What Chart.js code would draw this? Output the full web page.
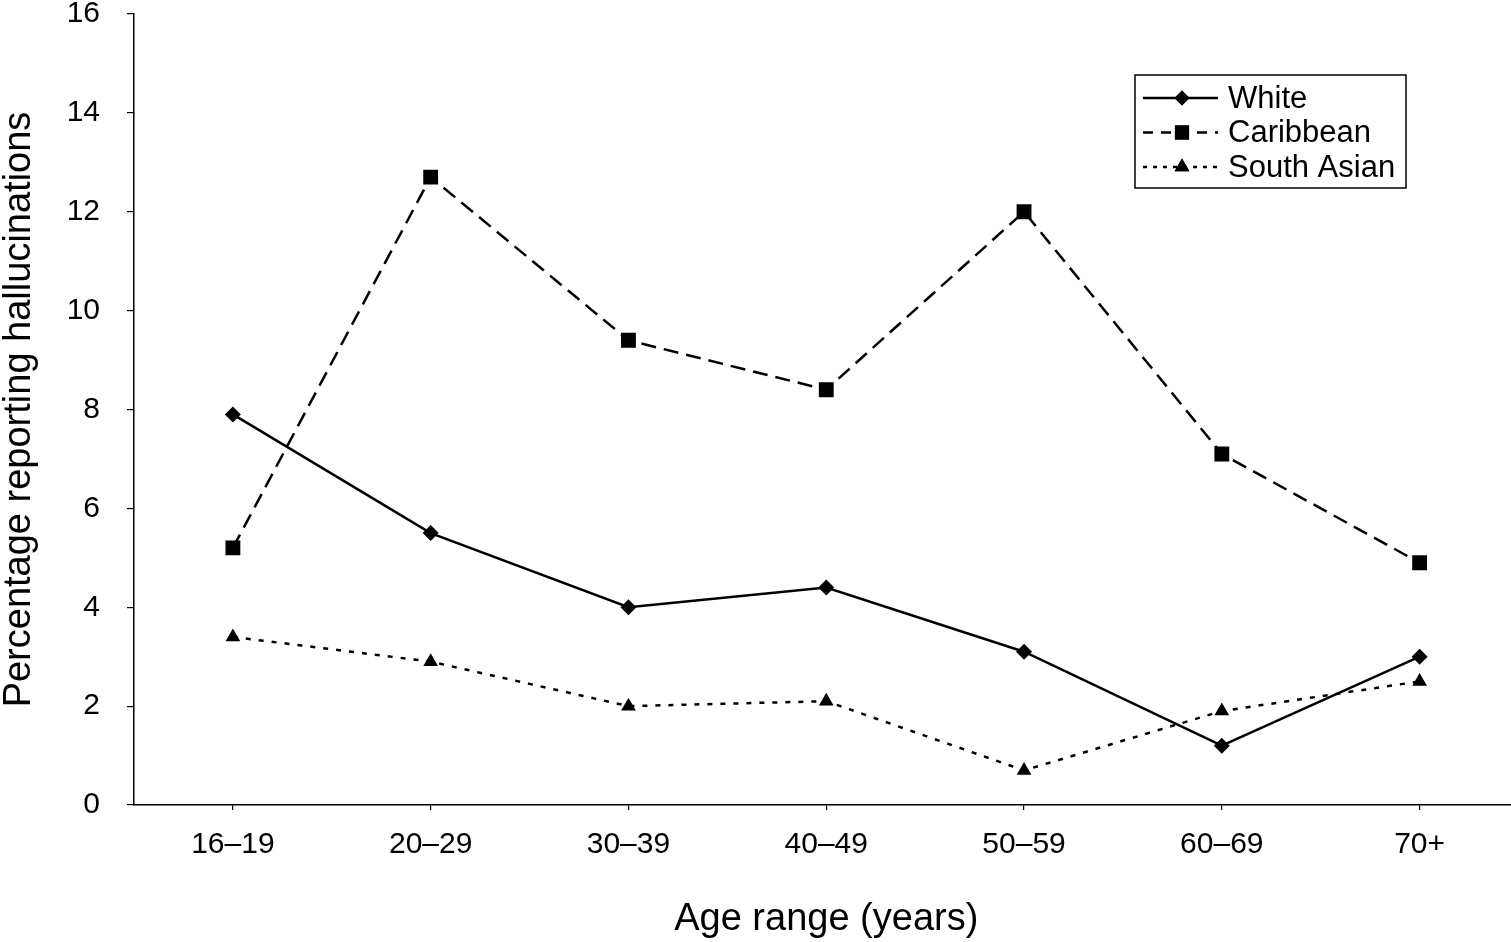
<!DOCTYPE html>
<html>
<head>
<meta charset="utf-8">
<script src="https://cdn.jsdelivr.net/npm/chart.js@4/dist/chart.umd.min.js"></script>
<style>
    html, body { margin: 0; padding: 0; background: #fff; overflow: hidden; width: 1511px; height: 942px; }
    /* the plot runs a little past the right edge of the picture, so clip it */
    #wrap { position: relative; width: 1511px; height: 942px; overflow: hidden; }
    #chart { position: absolute; left: 0; top: 0; display: block; max-width: none !important; }
</style>
</head>
<body>
<div id="wrap"><canvas id="chart" width="1529" height="942"></canvas></div>
<script>
// Data
const ageRanges = ['16\u201319', '20\u201329', '30\u201339', '40\u201349', '50\u201359', '60\u201369', '70+'];
const whiteValues = [7.9, 5.5, 4.0, 4.4, 3.1, 1.2, 3.0];
const caribbeanValues = [5.2, 12.7, 9.4, 8.4, 12.0, 7.1, 4.9];
const southAsianValues = [3.4, 2.9, 2.0, 2.1, 0.7, 1.9, 2.5];
const seriesLabels = ['White', 'Caribbean', 'South Asian'];

const FONT = '"Liberation Sans", Arial, sans-serif';

// Boxed legend drawn inside the plot, top right
const boxLegend = {
    id: 'boxLegend',
    afterDraw(chart) {
        const ctx = chart.ctx;
        const x0 = 1135, y0 = 75, w = 271, h = 113;
        const rowH = 34.5;
        ctx.save();
        ctx.fillStyle = '#fff';
        ctx.fillRect(x0, y0, w, h);
        ctx.strokeStyle = '#000';
        ctx.lineWidth = 1.5;
        ctx.strokeRect(x0, y0, w, h);
        chart.data.datasets.forEach((ds, i) => {
            const cy = y0 + 23 + i * rowH;
            ctx.strokeStyle = '#000';
            ctx.lineWidth = 2.5;
            ctx.setLineDash(ds.legendDash || []);
            ctx.beginPath();
            ctx.moveTo(x0 + 8, cy);
            ctx.lineTo(x0 + 83, cy);
            ctx.stroke();
            ctx.setLineDash([]);
            ctx.fillStyle = '#000';
            Chart.helpers.drawPoint(ctx, {
                pointStyle: ds.pointStyle,
                radius: ds.legendRadius,
                borderWidth: 0
            }, x0 + 47, cy);
            ctx.fill();
            ctx.font = '31px ' + FONT;
            ctx.textBaseline = 'middle';
            ctx.textAlign = 'left';
            ctx.fillText(ds.label, x0 + 93, cy + 1);
        });
        ctx.restore();
    }
};

new Chart(document.getElementById('chart'), {
    type: 'line',
    data: {
        labels: ageRanges,
        datasets: [{
            label: seriesLabels[0],
            data: whiteValues,
            borderColor: '#000',
            backgroundColor: '#000',
            borderWidth: 2.5,
            pointStyle: 'rectRot',
            pointRadius: 8,
            pointBorderWidth: 0,
            legendRadius: 7.5,
            legendDash: []
        }, {
            label: seriesLabels[1],
            data: caribbeanValues,
            borderColor: '#000',
            backgroundColor: '#000',
            borderWidth: 2.5,
            borderDash: [15, 8],
            pointStyle: 'rect',
            pointRadius: 10.5,
            pointBorderWidth: 0,
            legendRadius: 10,
            legendDash: [10, 8]
        }, {
            label: seriesLabels[2],
            data: southAsianValues,
            borderColor: '#000',
            backgroundColor: '#000',
            borderWidth: 2.5,
            borderDash: [5, 8],
            pointStyle: 'triangle',
            pointRadius: 8.5,
            pointBorderWidth: 0,
            legendRadius: 8.5,
            legendDash: [4, 6]
        }]
    },
    options: {
        responsive: false,
        animation: false,
        devicePixelRatio: 1,
        layout: { padding: { top: 14, left: 0, right: 1, bottom: 0 } },
        plugins: {
            legend: { display: false },
            tooltip: { enabled: false }
        },
        scales: {
            x: {
                offset: true,
                afterFit: (s) => { s.height = 137; s.paddingLeft = 0; s.paddingRight = 0; },
                border: { color: '#000', width: 1.5 },
                grid: { display: true, drawOnChartArea: false, offset: false, tickLength: 5, color: '#000', lineWidth: 1.2 },
                ticks: {
                    color: '#000',
                    padding: 21,
                    font: { family: FONT, size: 30, lineHeight: 0.9 }
                },
                title: {
                    display: true,
                    text: 'Age range (years)',
                    color: '#000',
                    padding: { top: 0, bottom: 0 },
                    font: { family: FONT, size: 38 }
                }
            },
            y: {
                min: 0,
                max: 16,
                afterFit: (s) => { s.width = 134; s.paddingTop = 0; s.paddingBottom = 0; },
                border: { color: '#000', width: 1.5 },
                grid: { display: true, drawOnChartArea: false, tickLength: 7, color: '#000', lineWidth: 1.2 },
                ticks: {
                    stepSize: 2,
                    color: '#000',
                    padding: 27,
                    font: { family: FONT, size: 30, lineHeight: 0.9 }
                },
                title: {
                    display: true,
                    text: 'Percentage reporting hallucinations',
                    color: '#000',
                    padding: { top: 1, bottom: 0 },
                    font: { family: FONT, size: 38, lineHeight: 1 }
                }
            }
        }
    },
    plugins: [boxLegend]
});
</script>
</body>
</html>
